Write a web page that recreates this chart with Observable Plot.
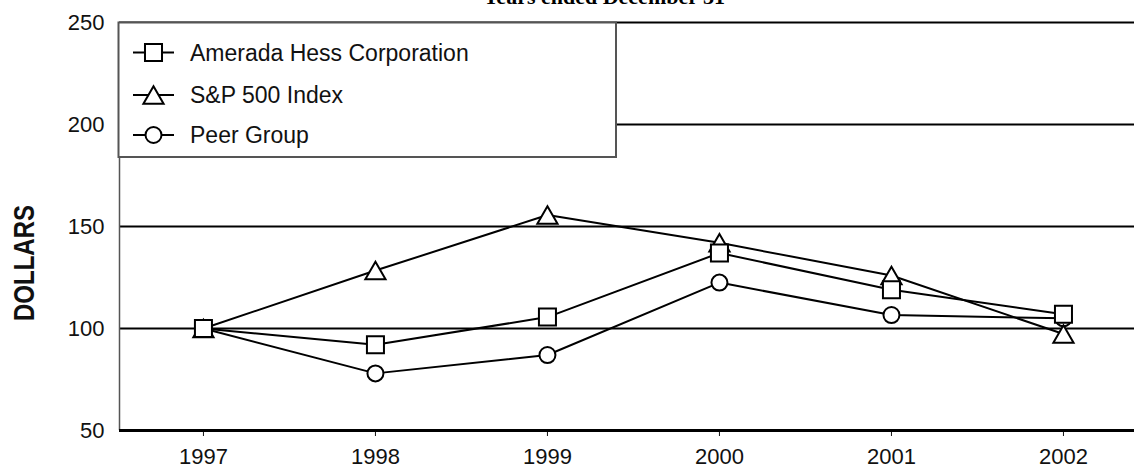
<!DOCTYPE html>
<html>
<head>
<meta charset="utf-8">
<script src="https://cdn.jsdelivr.net/npm/d3@7"></script>
<script src="https://cdn.jsdelivr.net/npm/@observablehq/plot@0.6"></script>
<style>
  body { margin: 0; background: #fff; }
  #wrap { position: relative; width: 1134px; height: 468px; overflow: hidden; background: #fff; }
  #wrap > svg { position: absolute; left: 0; top: 0; }
  #overlay { pointer-events: none; }
</style>
</head>
<body>
<div id="wrap"></div>
<script>
// ---- data ----
const years = [1997, 1998, 1999, 2000, 2001, 2002];
const hess  = [100, 92, 105.6, 137, 119, 107];
const sp500 = [100, 128.4, 155.6, 142, 126, 97.3];
const peer  = [100, 78, 87, 122.5, 106.6, 105];
const seriesNames = ["Amerada Hess Corporation", "S&P 500 Index", "Peer Group"];
const yTicks = [50, 100, 150, 200, 250];
const gridValues = [100, 150, 200, 250];
const titleText = "Years ended December 31";
const yLabel = "DOLLARS";

const xDomain = [1996.512, 2002.413];

const rows = (name, vals) => years.map((y, i) => ({series: name, year: y, value: vals[i]}));
const dHess = rows(seriesNames[0], hess);
const dSp = rows(seriesNames[1], sp500);
const dPeer = rows(seriesNames[2], peer);

const symbols = [
  {name: seriesNames[0], symbol: "square", r: 9.6, dy: 0},
  {name: seriesNames[1], symbol: "triangle", r: 7.5, dy: 2.9},
  {name: seriesNames[2], symbol: "circle", r: 8, dy: 0}
];

const font = "'Liberation Sans', Arial, Helvetica, sans-serif";

const plot = Plot.plot({
  width: 1134,
  height: 468,
  marginLeft: 119,
  marginRight: 0,
  marginTop: 22,
  marginBottom: 38,
  style: {fontFamily: font, fontSize: "22px", color: "#111", background: "transparent"},
  x: {type: "linear", domain: xDomain, ticks: years, tickFormat: d => String(d), tickSize: 6, tickPadding: 12, label: null},
  y: {domain: [50, 250], ticks: yTicks, tickSize: 0, tickPadding: 15, label: null},
  marks: [
    Plot.ruleY(gridValues, {stroke: "#000", strokeWidth: 2}),
    Plot.ruleX([xDomain[0]], {stroke: "#555", strokeWidth: 1.5}),
    Plot.ruleY([yTicks[0]], {stroke: "#000", strokeWidth: 3}),
    Plot.line(dPeer, {x: "year", y: "value", stroke: "#000", strokeWidth: 2}),
    Plot.line(dSp, {x: "year", y: "value", stroke: "#000", strokeWidth: 2}),
    Plot.line(dHess, {x: "year", y: "value", stroke: "#000", strokeWidth: 2}),
    Plot.dot(dPeer, {x: "year", y: "value", symbol: "circle", r: symbols[2].r, fill: "#fff", stroke: "#000", strokeWidth: 2}),
    Plot.dot(dSp, {x: "year", y: "value", symbol: "triangle", r: symbols[1].r, dy: symbols[1].dy, fill: "#fff", stroke: "#000", strokeWidth: 2}),
    Plot.dot(dHess, {x: "year", y: "value", symbol: "square", r: symbols[0].r, fill: "#fff", stroke: "#000", strokeWidth: 2})
  ]
});

const wrap = document.getElementById("wrap");
wrap.appendChild(plot);

// ---- overlay: title, y label, legend ----
const ov = d3.select(wrap).append("svg")
  .attr("id", "overlay")
  .attr("width", 1134).attr("height", 468)
  .style("overflow", "hidden");

ov.append("text")
  .attr("x", 604).attr("y", 4)
  .attr("text-anchor", "middle")
  .style("font-family", "'Liberation Serif', 'Times New Roman', serif")
  .style("font-weight", "bold")
  .style("font-size", "22px")
  .attr("fill", "#000")
  .text(titleText);

ov.append("text")
  .attr("transform", "translate(33.5,263) rotate(-90) scale(1,1.25)")
  .attr("text-anchor", "middle")
  .style("font-family", font)
  .style("font-weight", "bold")
  .style("font-size", "24px")
  .attr("fill", "#111")
  .text(yLabel);

const lg = ov.append("g").attr("transform", "translate(118.5,22.5)");
lg.append("rect")
  .attr("x", 0).attr("y", 0).attr("width", 497.5).attr("height", 134.5)
  .attr("fill", "#fff").attr("stroke", "#555").attr("stroke-width", 2);

const symType = {square: d3.symbolSquare, triangle: d3.symbolTriangle, circle: d3.symbolCircle};
const rowY = [30, 72.5, 112.5];
symbols.forEach((s, i) => {
  const g = lg.append("g").attr("transform", `translate(35,${rowY[i]})`);
  g.append("line").attr("x1", -20.5).attr("x2", 20.5).attr("y1", 0).attr("y2", 0)
    .attr("stroke", "#000").attr("stroke-width", 2);
  g.append("path")
    .attr("transform", `translate(0,${s.dy})`)
    .attr("d", d3.symbol().type(symType[s.symbol]).size(Math.PI * s.r * s.r)())
    .attr("fill", "#fff").attr("stroke", "#000").attr("stroke-width", 2);
  lg.append("text")
    .attr("x", 71.5).attr("y", rowY[i]).attr("dy", "0.36em")
    .style("font-family", font)
    .style("font-size", "23px")
    .attr("fill", "#111")
    .text(s.name);
});
</script>
</body>
</html>
